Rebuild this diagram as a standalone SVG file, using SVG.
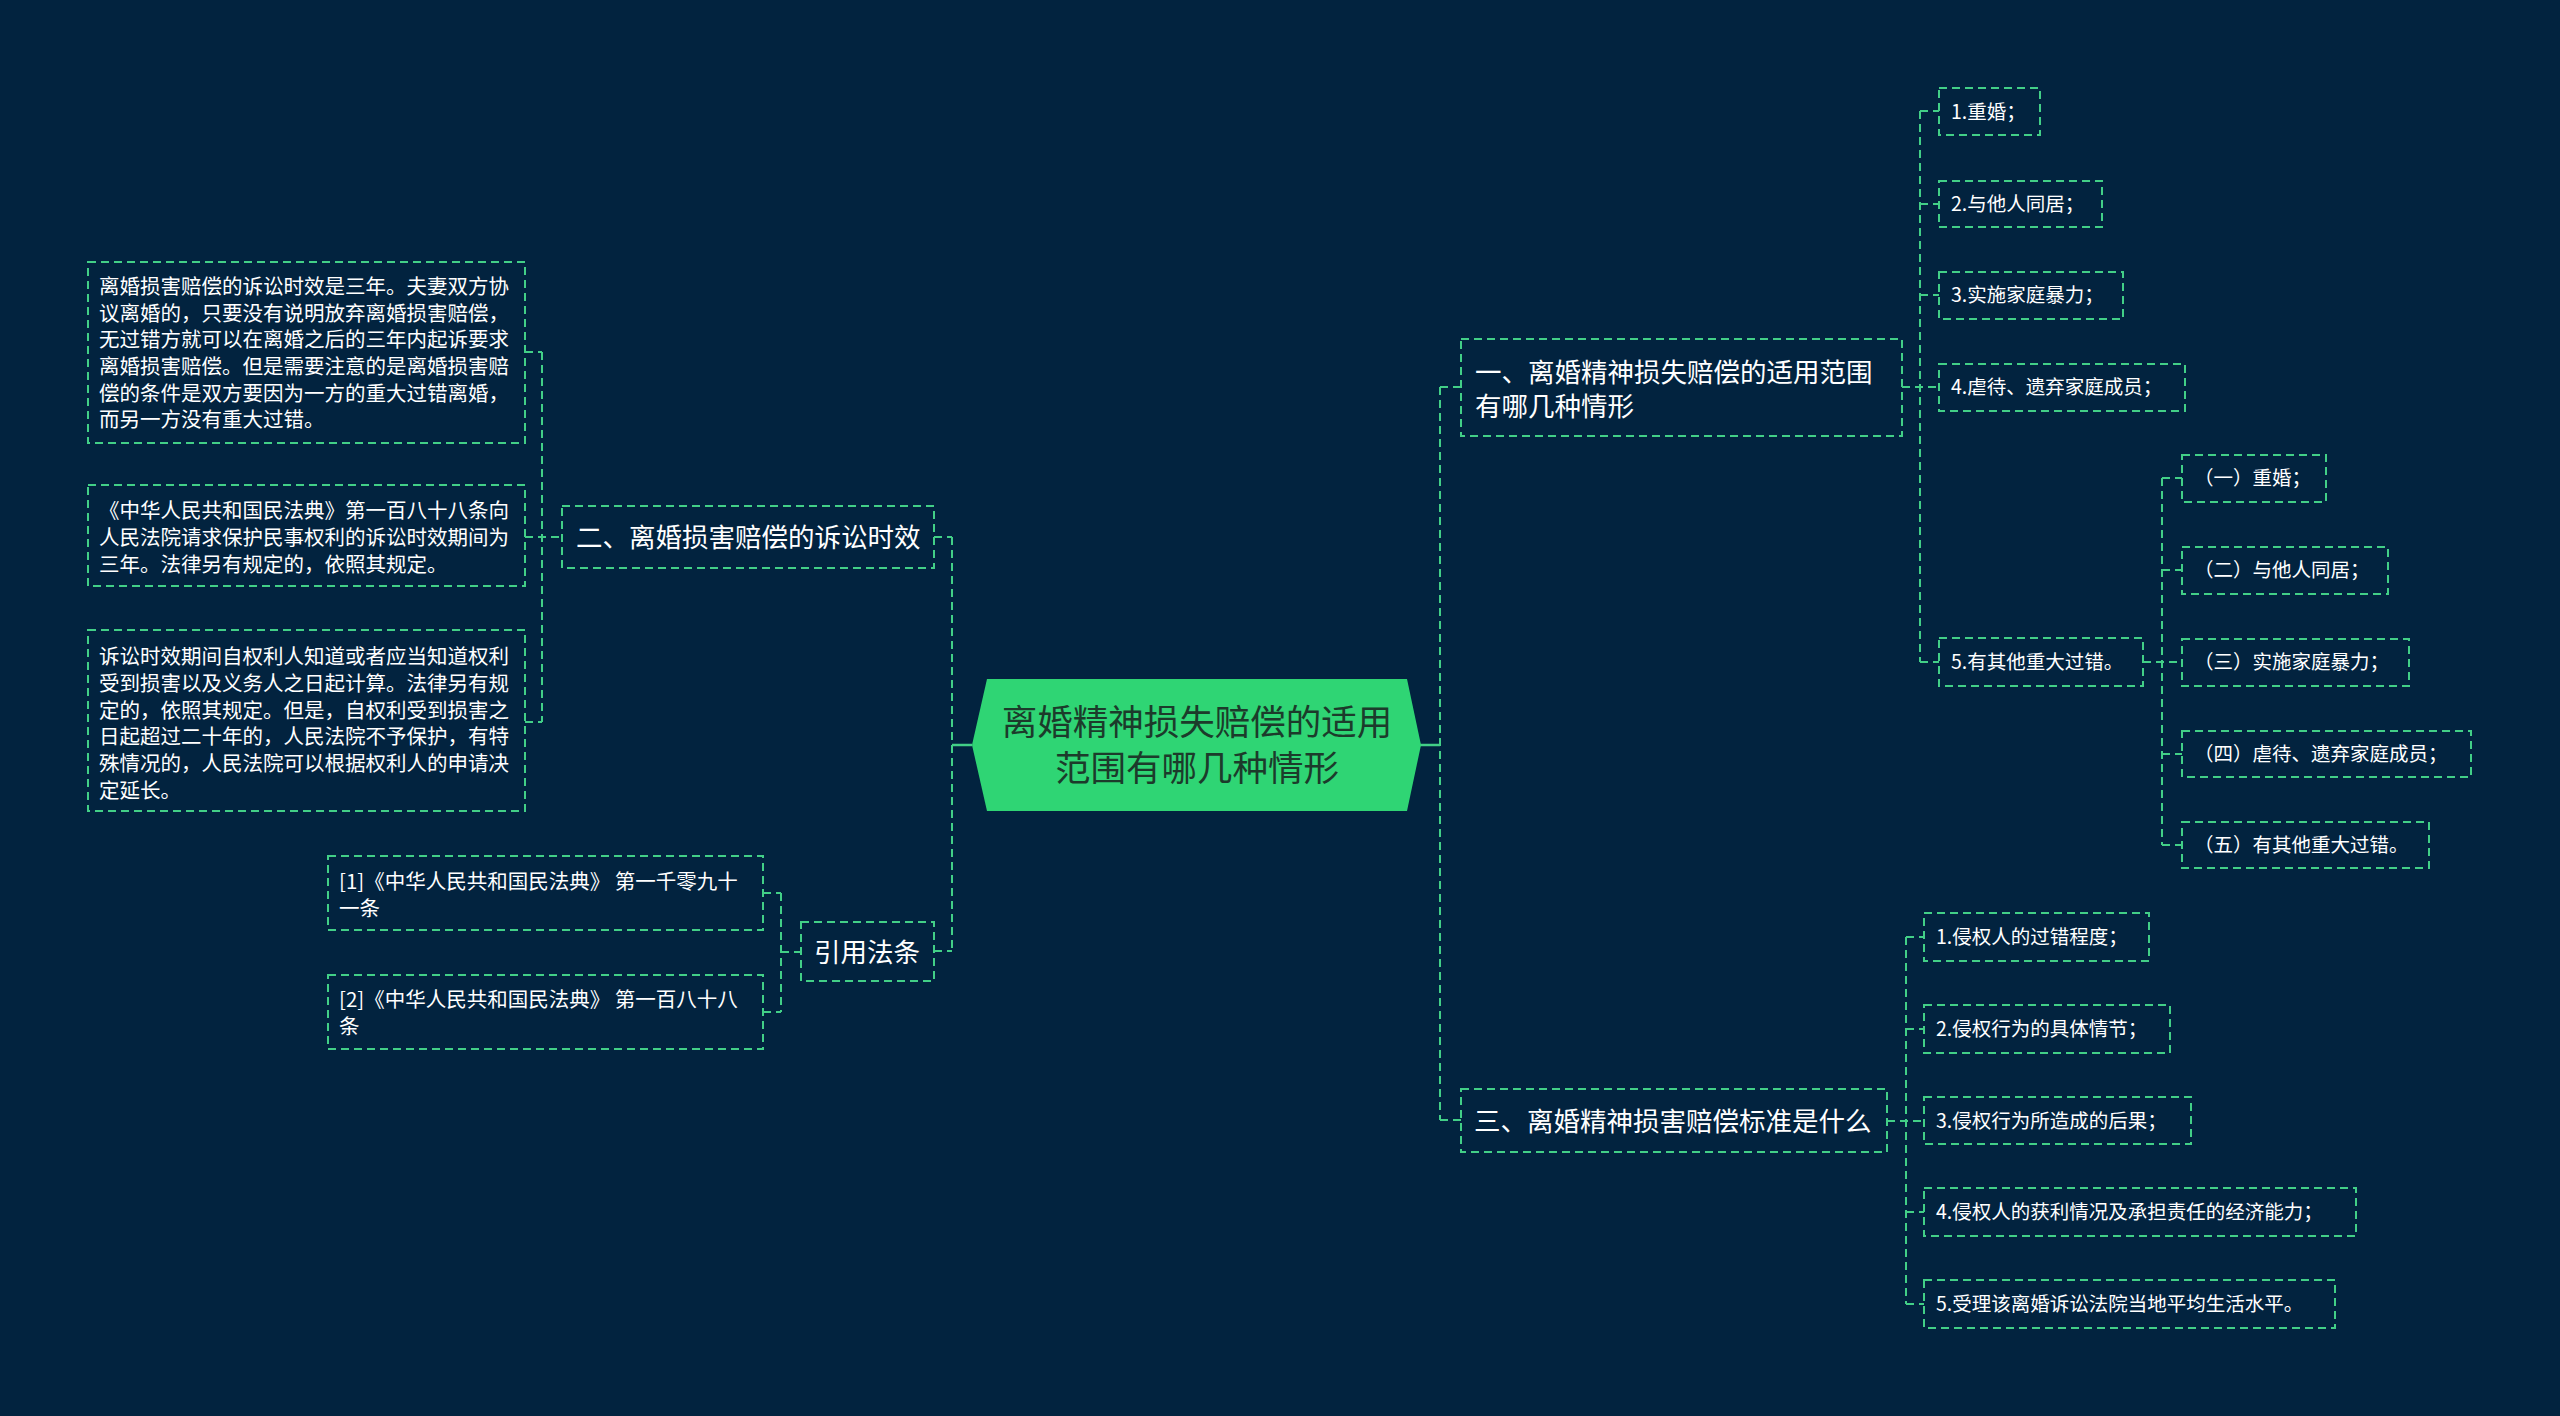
<svg xmlns="http://www.w3.org/2000/svg" width="2560" height="1416" viewBox="0 0 2560 1416">
<style>
.bg{fill:#02233f}
.box{fill:none;stroke:#42cf87;stroke-width:2;stroke-dasharray:8 5}
.ln{fill:none;stroke:#42cf87;stroke-width:2;stroke-dasharray:8 5}
.sol{fill:none;stroke:#42cf87;stroke-width:2.5}
.t{font-family:"Noto Sans CJK SC","Noto Sans",sans-serif;fill:#ffffff}
.l{font-size:20.5px}
.r{font-size:19.5px}
.b{font-size:26.5px}
.c{font-family:"Noto Sans CJK SC","Noto Sans",sans-serif;font-size:35.5px;fill:#1c3b2b;text-anchor:middle}
</style>
<rect class="bg" x="0" y="0" width="2560" height="1416"/>

<g id="connectors">
  <line class="sol" x1="952" y1="745" x2="972" y2="745"/>
  <line class="ln" x1="952" y1="537" x2="952" y2="951"/>
  <line class="ln" x1="934" y1="537" x2="952" y2="537"/>
  <line class="ln" x1="934" y1="951" x2="952" y2="951"/>
  <line class="ln" x1="542" y1="352" x2="542" y2="722"/>
  <line class="ln" x1="525" y1="352" x2="542" y2="352"/>
  <line class="ln" x1="525" y1="537" x2="562" y2="537"/>
  <line class="ln" x1="525" y1="722" x2="542" y2="722"/>
  <line class="ln" x1="781" y1="893" x2="781" y2="1012"/>
  <line class="ln" x1="763" y1="893" x2="781" y2="893"/>
  <line class="ln" x1="763" y1="1012" x2="781" y2="1012"/>
  <line class="ln" x1="781" y1="952" x2="801" y2="952"/>
  <line class="sol" x1="1420" y1="745" x2="1440" y2="745"/>
  <line class="ln" x1="1440" y1="387" x2="1440" y2="1120"/>
  <line class="ln" x1="1440" y1="387" x2="1461" y2="387"/>
  <line class="ln" x1="1440" y1="1120" x2="1461" y2="1120"/>
  <line class="ln" x1="1920" y1="111" x2="1920" y2="662"/>
  <line class="ln" x1="1902" y1="387" x2="1939" y2="387"/>
  <line class="ln" x1="1920" y1="111" x2="1939" y2="111"/>
  <line class="ln" x1="1920" y1="204" x2="1939" y2="204"/>
  <line class="ln" x1="1920" y1="295" x2="1939" y2="295"/>
  <line class="ln" x1="1920" y1="662" x2="1939" y2="662"/>
  <line class="ln" x1="2162" y1="478" x2="2162" y2="845"/>
  <line class="ln" x1="2143" y1="662" x2="2182" y2="662"/>
  <line class="ln" x1="2162" y1="478" x2="2182" y2="478"/>
  <line class="ln" x1="2162" y1="570" x2="2182" y2="570"/>
  <line class="ln" x1="2162" y1="754" x2="2182" y2="754"/>
  <line class="ln" x1="2162" y1="845" x2="2182" y2="845"/>
  <line class="ln" x1="1906" y1="937" x2="1906" y2="1304"/>
  <line class="ln" x1="1887" y1="1121" x2="1924" y2="1121"/>
  <line class="ln" x1="1906" y1="937" x2="1924" y2="937"/>
  <line class="ln" x1="1906" y1="1029" x2="1924" y2="1029"/>
  <line class="ln" x1="1906" y1="1212" x2="1924" y2="1212"/>
  <line class="ln" x1="1906" y1="1304" x2="1924" y2="1304"/>
</g>

<g id="center">
  <polygon points="972,745 987,679 1407,679 1421,745 1407,811 987,811" fill="#2fd574"/>
  <text class="c" x="1197" y="735">离婚精神损失赔偿的适用</text>
  <text class="c" x="1197" y="781">范围有哪几种情形</text>
</g>

<g id="b2">
  <rect class="box" x="562" y="506" width="372" height="62"/>
  <text class="t b" x="576" y="547">二、离婚损害赔偿的诉讼时效</text>
</g>
<g id="b2-1">
  <rect class="box" x="88" y="262" width="437" height="181"/>
  <text class="t l" x="99" y="294">离婚损害赔偿的诉讼时效是三年。夫妻双方协</text>
  <text class="t l" x="99" y="321">议离婚的，只要没有说明放弃离婚损害赔偿，</text>
  <text class="t l" x="99" y="347">无过错方就可以在离婚之后的三年内起诉要求</text>
  <text class="t l" x="99" y="374">离婚损害赔偿。但是需要注意的是离婚损害赔</text>
  <text class="t l" x="99" y="401">偿的条件是双方要因为一方的重大过错离婚，</text>
  <text class="t l" x="99" y="427">而另一方没有重大过错。</text>
</g>
<g id="b2-2">
  <rect class="box" x="88" y="485" width="437" height="101"/>
  <text class="t l" x="99" y="518">《中华人民共和国民法典》第一百八十八条向</text>
  <text class="t l" x="99" y="545">人民法院请求保护民事权利的诉讼时效期间为</text>
  <text class="t l" x="99" y="572">三年。法律另有规定的，依照其规定。</text>
</g>
<g id="b2-3">
  <rect class="box" x="88" y="630" width="437" height="181"/>
  <text class="t l" x="99" y="664">诉讼时效期间自权利人知道或者应当知道权利</text>
  <text class="t l" x="99" y="691">受到损害以及义务人之日起计算。法律另有规</text>
  <text class="t l" x="99" y="718">定的，依照其规定。但是，自权利受到损害之</text>
  <text class="t l" x="99" y="744">日起超过二十年的，人民法院不予保护，有特</text>
  <text class="t l" x="99" y="771">殊情况的，人民法院可以根据权利人的申请决</text>
  <text class="t l" x="99" y="798">定延长。</text>
</g>

<g id="cite">
  <rect class="box" x="801" y="922" width="133" height="59"/>
  <text class="t b" x="814" y="962">引用法条</text>
</g>
<g id="cite-1">
  <rect class="box" x="328" y="856" width="435" height="74"/>
  <text class="t l" x="339" y="889">[1]《中华人民共和国民法典》 第一千零九十</text>
  <text class="t l" x="339" y="916">一条</text>
</g>
<g id="cite-2">
  <rect class="box" x="328" y="975" width="435" height="74"/>
  <text class="t l" x="339" y="1007">[2]《中华人民共和国民法典》 第一百八十八</text>
  <text class="t l" x="339" y="1034">条</text>
</g>

<g id="b1">
  <rect class="box" x="1461" y="339" width="441" height="97"/>
  <text class="t b" x="1475" y="382">一、离婚精神损失赔偿的适用范围</text>
  <text class="t b" x="1475" y="416">有哪几种情形</text>
</g>
<g id="b1-1">
  <rect class="box" x="1939" y="88" width="101" height="47"/>
  <text class="t r" x="1951" y="119">1.重婚；</text>
</g>
<g id="b1-2">
  <rect class="box" x="1939" y="181" width="163" height="46"/>
  <text class="t r" x="1951" y="211">2.与他人同居；</text>
</g>
<g id="b1-3">
  <rect class="box" x="1939" y="272" width="184" height="47"/>
  <text class="t r" x="1951" y="302">3.实施家庭暴力；</text>
</g>
<g id="b1-4">
  <rect class="box" x="1939" y="364" width="246" height="47"/>
  <text class="t r" x="1951" y="394">4.虐待、遗弃家庭成员；</text>
</g>
<g id="b1-5">
  <rect class="box" x="1939" y="638" width="204" height="48"/>
  <text class="t r" x="1951" y="669">5.有其他重大过错。</text>
</g>
<g id="b1-5-1">
  <rect class="box" x="2182" y="455" width="144" height="47"/>
  <text class="t r" x="2194" y="485">（一）重婚；</text>
</g>
<g id="b1-5-2">
  <rect class="box" x="2182" y="547" width="206" height="47"/>
  <text class="t r" x="2194" y="577">（二）与他人同居；</text>
</g>
<g id="b1-5-3">
  <rect class="box" x="2182" y="639" width="227" height="47"/>
  <text class="t r" x="2194" y="669">（三）实施家庭暴力；</text>
</g>
<g id="b1-5-4">
  <rect class="box" x="2182" y="731" width="289" height="46"/>
  <text class="t r" x="2194" y="761">（四）虐待、遗弃家庭成员；</text>
</g>
<g id="b1-5-5">
  <rect class="box" x="2182" y="822" width="247" height="46"/>
  <text class="t r" x="2194" y="852">（五）有其他重大过错。</text>
</g>

<g id="b3">
  <rect class="box" x="1461" y="1089" width="426" height="63"/>
  <text class="t b" x="1474" y="1131">三、离婚精神损害赔偿标准是什么</text>
</g>
<g id="b3-1">
  <rect class="box" x="1924" y="913" width="225" height="48"/>
  <text class="t r" x="1936" y="944">1.侵权人的过错程度；</text>
</g>
<g id="b3-2">
  <rect class="box" x="1924" y="1005" width="246" height="48"/>
  <text class="t r" x="1936" y="1036">2.侵权行为的具体情节；</text>
</g>
<g id="b3-3">
  <rect class="box" x="1924" y="1097" width="267" height="47"/>
  <text class="t r" x="1936" y="1128">3.侵权行为所造成的后果；</text>
</g>
<g id="b3-4">
  <rect class="box" x="1924" y="1188" width="432" height="48"/>
  <text class="t r" x="1936" y="1219">4.侵权人的获利情况及承担责任的经济能力；</text>
</g>
<g id="b3-5">
  <rect class="box" x="1924" y="1280" width="411" height="48"/>
  <text class="t r" x="1936" y="1311">5.受理该离婚诉讼法院当地平均生活水平。</text>
</g>
</svg>
